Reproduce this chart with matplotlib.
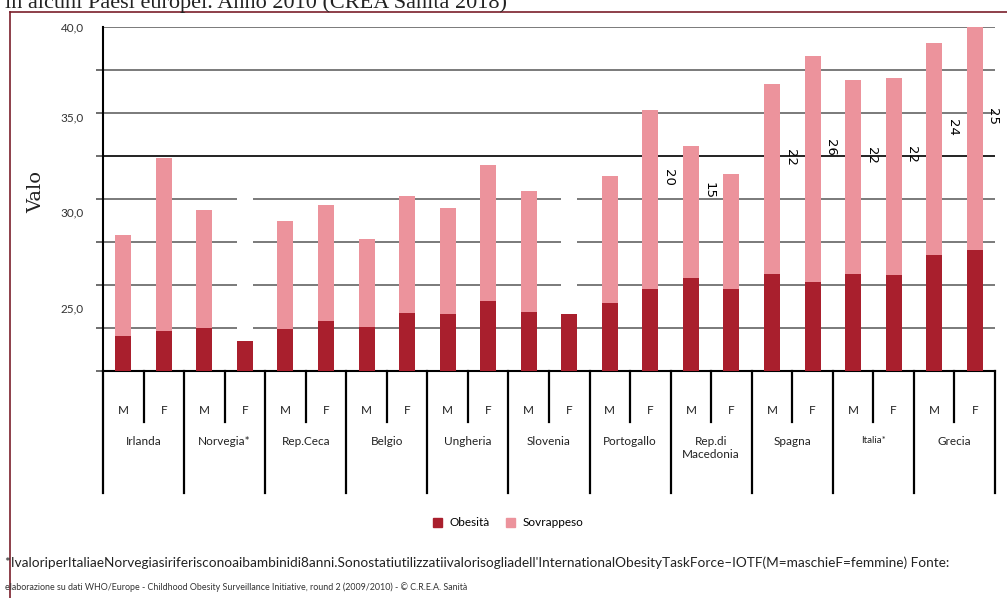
import matplotlib
matplotlib.use("Agg")
import matplotlib.pyplot as plt
import matplotlib.transforms as mtransforms
from matplotlib.lines import Line2D
from matplotlib.patches import Patch
import numpy as np

# dati (barre M/F alternate per paese)
paesi = ["Irlanda", "Norvegia*", "Rep.Ceca", "Belgio", "Ungheria", "Slovenia",
         "Portogallo", "Rep.di\nMacedonia", "Spagna", "Italia*", "Grecia"]
sessi = ["M", "F"]

obesita = [4.1, 4.7, 5.0, 3.5, 4.9, 5.8, 5.1, 6.8, 6.6, 8.1, 6.9, 6.6,
           7.9, 9.5, 10.8, 9.5, 11.3, 10.4, 11.3, 11.2, 13.5, 14.1]
sovrappeso = [11.7, 20.1, 13.7, 19.0, 12.5, 13.5, 10.2, 13.5, 12.3, 15.8, 14.0, 15.8,
              14.8, 20.9, 15.4, 13.4, 22.1, 26.2, 22.5, 22.9, 24.6, 25.9]
# Norvegia F e Slovenia F: barra sovrappeso non visibile (bianca)
sovr_visibile = [True, True, True, False, True, True, True, True, True, True, True, False,
                 True, True, True, True, True, True, True, True, True, True]
# etichette ruotate presenti solo su alcune barre
con_etichetta = [False] * 13 + [True, True, False, True, True, True, True, True, True]

ytick_val = [7.3, 18.5, 29.55, 40.0]
ytick_lbl = ["25,0", "30,0", "35,0", "40,0"]

titolo = "in alcuni Paesi europei. Anno 2010 (CREA Sanità 2018)"
nota1 = ("*IvaloriperItaliaeNorvegiasiriferisconoaibambinidi8anni.Sonostatiutilizzatii"
         "valorisogliadell'InternationalObesityTaskForce–IOTF(M=maschieF=femmine) Fonte:")
nota2 = ("elaborazione su dati WHO/Europe - Childhood Obesity Surveillance Initiative, "
         "round 2 (2009/2010) - © C.R.E.A. Sanità")

col_ob = "#a91f2d"
col_sv = "#ec939c"
sans = ["Lato", "DejaVu Sans"]

W, H = 1007, 598
fig = plt.figure(figsize=(W / 100, H / 100), dpi=100)
ax = fig.add_axes([103 / W, 227 / H, 892 / W, 344 / H])

x = np.arange(len(obesita))
ax.bar(x, obesita, width=0.395, color=col_ob, zorder=3)
ax.bar(x, sovrappeso, bottom=obesita, width=0.395,
       color=[col_sv if v else "white" for v in sovr_visibile], zorder=3)

ax.set_xlim(-0.5, len(obesita) - 0.5)
ax.set_ylim(0, 40)

# griglia orizzontale
for v in range(5, 41, 5):
    c = "#111111" if v == 25 else "#707070"
    ax.axhline(v, color=c, lw=1.3, zorder=1)

ax.set_yticks(np.arange(0, 41, 5), minor=True)
ax.set_yticks(ytick_val)
ax.set_yticklabels(ytick_lbl, family=sans, fontsize=8.5, color="#333333")
ax.tick_params(axis="y", which="major", length=0, pad=14)
ax.tick_params(axis="y", which="minor", length=5, color="#555555", width=1.2)
ax.set_xticks([])

for s in ["top", "right"]:
    ax.spines[s].set_visible(False)
ax.spines["left"].set_linewidth(1.5)
ax.spines["bottom"].set_linewidth(1.5)
ax.spines["left"].set_zorder(4)

# etichette ruotate (valore sovrappeso)
for i in x:
    if con_etichetta[i]:
        ax.text(i + 0.45, obesita[i] + sovrappeso[i] / 2 + 2.5, str(int(sovrappeso[i])),
                rotation=-90, ha="center", va="center", fontsize=9.5, zorder=5)

# tabella sotto l'asse
trans = mtransforms.blended_transform_factory(ax.transData, ax.transAxes)
for b in np.arange(-0.5, len(obesita), 2):
    ax.plot([b, b], [0, -0.355], transform=trans, clip_on=False, color="black", lw=1.6)
for b in np.arange(0.5, len(obesita), 2):
    ax.plot([b, b], [0, -0.148], transform=trans, clip_on=False, color="black", lw=1.6)
for i in x:
    ax.text(i, -0.115, sessi[i % 2], transform=trans, ha="center", va="center",
            family=sans, fontsize=8.5, color="#222222")
for g, p in enumerate(paesi):
    fs = 7 if p == "Italia*" else 8.5
    ax.text(2 * g + 0.5, -0.19, p, transform=trans, ha="center", va="top",
            family=sans, fontsize=fs, color="#222222", linespacing=1.15)

fig.text(36 / W, 1 - 192 / H, "Valo", rotation=90, ha="center", va="center",
         family="DejaVu Serif", fontsize=14, color="#222222")

fig.legend(handles=[Patch(color=col_ob, label="Obesità"), Patch(color=col_sv, label="Sovrappeso")],
           loc="center", bbox_to_anchor=(508 / W, 1 - 523 / H), ncol=2, frameon=False,
           prop={"family": sans, "size": 8.5}, handlelength=0.8, handleheight=0.8,
           columnspacing=1.4, handletextpad=0.6)

fig.text(5 / W, 1 - 8 / H, titolo, ha="left", va="baseline", family="Liberation Serif",
         fontsize=16, color="#222222")
fig.text(5 / W, 1 - 563 / H, nota1, ha="left", va="center", family=sans, fontsize=9.8,
         color="#222222")
fig.text(5 / W, 1 - 587 / H, nota2, ha="left", va="center", family=sans, fontsize=6.4,
         color="#333333")

# cornice
fig.add_artist(Line2D([10 / W, 1], [1 - 12 / H, 1 - 12 / H], color="#7a1f2b", lw=1.2))
fig.add_artist(Line2D([10 / W, 10 / W], [0, 1 - 12 / H], color="#7a1f2b", lw=1.2))

fig.savefig("out.png", dpi=100)
